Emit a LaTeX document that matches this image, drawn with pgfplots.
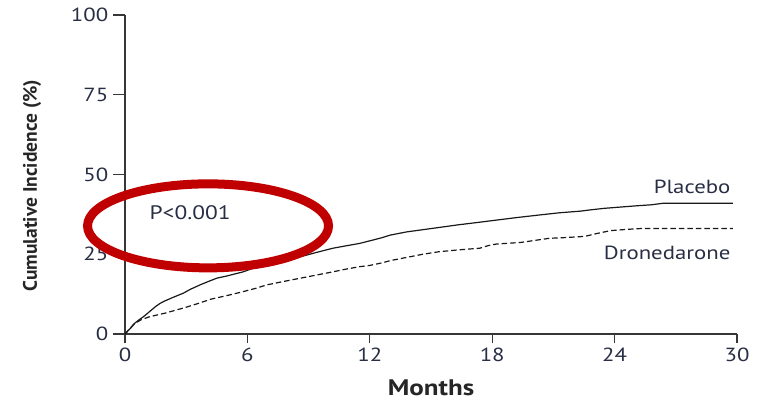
\documentclass[border=0pt]{standalone}
\usepackage{fontspec}
\setmainfont{PT Sans}
\newfontfamily\widesans{PT Sans}[FakeStretch=1.2]
\usepackage{pgfplots}
\pgfplotsset{compat=1.18}
\definecolor{inktext}{RGB}{40,46,68}
\definecolor{axisgray}{RGB}{55,55,55}
\definecolor{markred}{RGB}{192,0,0}

\begin{document}
\begin{tikzpicture}
\useasboundingbox (-125pt,-68pt) rectangle (632pt,334pt);
\begin{axis}[
  at={(0pt,0pt)}, anchor=south west,
  scale only axis, width=612pt, height=319pt,
  xmin=0, xmax=30, ymin=0, ymax=100,
  axis x line*=bottom, axis y line*=left,
  axis line style={-, axisgray, line width=1.4pt},
  xtick={0,6,12,18,24,30}, ytick={0,25,50,75,100},
  tick align=outside,
  major tick style={axisgray, line width=1.3pt},
  xtick style={/pgfplots/major tick length=9pt},
  ytick style={/pgfplots/major tick length=12pt},
  /pgf/number format/assume math mode=true,
  ticklabel style={font=\widesans\fontsize{19}{21}\selectfont, text=inktext},
  xticklabel style={yshift=-6pt},
  yticklabel style={xshift=-9pt},
  clip=false,
  xlabel={Months},
  ylabel={Cumulative Incidence (\%)},
  xlabel style={font=\widesans\bfseries\fontsize{22.5}{24}\selectfont, text=black!85,
    at={(axis description cs:0.5,-0.168)}, anchor=center, inner sep=1pt},
  ylabel style={font=\bfseries\fontsize{19.5}{21}\selectfont, text=black!85,
    at={(axis description cs:-0.152,0.465)}, anchor=center},
]
% Placebo
\addplot[sharp plot, black!90, line width=1.2pt] coordinates {
(0,0) (0.15,1.0) (0.3,2.0) (0.5,3.5) (0.7,4.5) (0.9,5.4) (1.2,7.0)
(1.5,8.6) (1.72,9.6) (2.0,10.5) (2.4,11.6) (2.86,12.8) (3.2,14.0)
(3.68,15.4) (4.1,16.5) (4.5,17.5) (5.0,18.2) (5.8,19.5) (6.4,20.9)
(6.95,22.2) (7.7,23.2) (8.6,24.2) (9.4,25.6) (10.2,26.9) (10.8,27.6)
(11.5,28.4) (12.0,29.2) (12.6,30.2) (13.0,31.0) (13.8,32.0) (14.6,32.7)
(15.4,33.4) (16.3,34.2) (17.2,34.9) (18.2,35.7) (19.2,36.5) (20.3,37.3)
(21.3,38.0) (22.3,38.5) (22.8,38.9) (23.5,39.4) (24.3,39.8) (25.1,40.2)
(25.8,40.5) (26.4,41.0) (29.8,41.0)
};
% Dronedarone
\addplot[sharp plot, black!90, line width=1.2pt, dash pattern=on 5.5pt off 3pt] coordinates {
(0,0) (0.2,1.5) (0.45,3.2) (0.8,4.5) (1.2,5.4) (1.6,6.0) (2.0,6.6)
(2.5,7.5) (3.0,8.4) (3.5,9.4) (4.2,10.9) (5.1,12.2) (5.8,13.3)
(6.4,14.3) (6.95,15.4) (7.8,16.5) (8.6,17.5) (9.4,18.5) (10.2,19.5)
(10.8,20.3) (11.5,21.1) (12.0,21.5) (12.6,22.3) (13.0,23.0) (13.8,24.0)
(14.6,25.0) (15.4,25.8) (16.4,26.4) (17.4,26.9) (17.8,27.7) (18.2,28.2)
(19.4,28.7) (20.8,30.0) (21.5,30.2) (22.3,30.5) (22.6,30.7) (23.2,31.6)
(23.8,32.4) (24.6,32.8) (25.4,33.1) (29.8,33.1)
};
\node[anchor=center, text=inktext, font=\widesans\fontsize{19.5}{21}\selectfont] at (axis cs:3.19,37.9) {P<0.001};
\node[anchor=east, text=inktext, font=\widesans\fontsize{19}{21}\selectfont] at (axis cs:29.85,46.1) {Placebo};
\node[anchor=east, text=inktext, font=\widesans\fontsize{19}{21}\selectfont] at (axis cs:29.85,25.5) {Dronedarone};
\coordinate (ring) at (axis cs:4.07,33.9);
\end{axis}
% highlight ring around the p-value
\draw[markred, line width=9pt] (ring) ellipse [x radius=120.5pt, y radius=42pt];
\end{tikzpicture}
\end{document}
